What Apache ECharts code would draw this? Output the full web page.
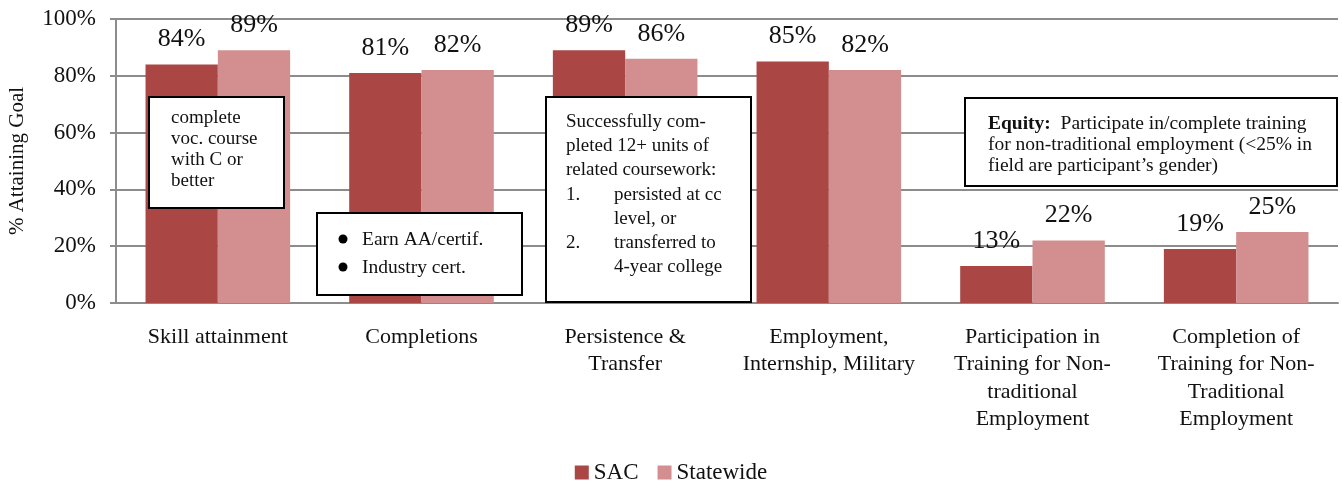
<!DOCTYPE html>
<html>
<head>
<meta charset="utf-8">
<script src="https://cdn.jsdelivr.net/npm/echarts@6/dist/echarts.min.js"></script>
<style>html,body{margin:0;padding:0;background:#fff}#c{width:1342px;height:483px}</style>
</head>
<body>
<div id="c"></div>
<script>
const categories = ['Skill attainment', 'Completions', 'Persistence &\nTransfer', 'Employment,\nInternship, Military', 'Participation in\nTraining for Non-\ntraditional\nEmployment', 'Completion of\nTraining for Non-\nTraditional\nEmployment'];
const sacValues = [84, 81, 89, 85, 13, 19];
const statewideValues = [89, 82, 86, 82, 22, 25];
const seriesNames = ['SAC', 'Statewide'];
const yTicks = [0, 20, 40, 60, 80, 100];

const SERIF = '"Liberation Serif", "Times New Roman", serif';
const chart = echarts.init(document.getElementById('c'));

function boxRect(x, y, w, h) {
  return { type: 'rect', z: 100, shape: { x: x, y: y, width: w, height: h }, style: { fill: '#fff', stroke: '#000', lineWidth: 2 } };
}
function txt(x, y, s, size, extra) {
  return Object.assign({ type: 'text', z: 101, x: x, y: y, style: { text: s, font: size + 'px ' + SERIF, fill: '#111', verticalAlign: 'middle', align: 'left' } }, extra || {});
}

const graphics = [
  boxRect(149, 97, 135, 111),
  txt(171, 118, 'complete', 19),
  txt(171, 139, 'voc. course', 19),
  txt(171, 160, 'with C or', 19),
  txt(171, 181, 'better', 19),

  boxRect(317, 213, 205, 82),
  { type: 'circle', z: 101, shape: { cx: 343, cy: 239, r: 4.5 }, style: { fill: '#000' } },
  { type: 'circle', z: 101, shape: { cx: 343, cy: 267, r: 4.5 }, style: { fill: '#000' } },
  txt(362, 240, 'Earn AA/certif.', 19.5),
  txt(362, 268, 'Industry cert.', 19.5),

  boxRect(546, 97, 205, 205),
  txt(566, 122, 'Successfully com-', 19),
  txt(566, 146, 'pleted 12+ units of', 19),
  txt(566, 170, 'related coursework:', 19),
  txt(566, 195, '1.', 19),
  txt(614, 195, 'persisted at cc', 19),
  txt(614, 219, 'level, or', 19),
  txt(566, 243, '2.', 19),
  txt(614, 243, 'transferred to', 19),
  txt(614, 267, '4-year college', 19),

  boxRect(965, 98, 372, 88),
  { type: 'text', z: 101, x: 988, y: 124, style: { rich: { b: { font: 'bold 19.5px ' + SERIF, fill: '#111' }, n: { font: '19.5px ' + SERIF, fill: '#111' } }, text: '{b|Equity:}{n|  Participate in/complete training}', verticalAlign: 'middle' } },
  txt(988, 145, 'for non-traditional employment (<25% in', 19.5),
  txt(988, 166, 'field are participant\u2019s gender)', 19.5)
];

chart.setOption({
  animation: false,
  textStyle: { fontFamily: SERIF },
  grid: { left: 116, right: 4, top: 19, bottom: 180, containLabel: false, outerBoundsMode: 'none' },
  legend: {
    top: 456, left: 'center', itemWidth: 14, itemHeight: 14, itemGap: 19, icon: 'rect',
    textStyle: { fontFamily: SERIF, fontSize: 23, color: '#111' },
    data: seriesNames
  },
  xAxis: {
    type: 'category', data: categories,
    axisLine: { lineStyle: { color: '#8c8c8c', width: 2 } },
    axisTick: { show: false },
    axisLabel: { interval: 0, fontFamily: SERIF, fontSize: 22, lineHeight: 27.5, color: '#111', margin: 20 }
  },
  yAxis: {
    type: 'value', min: 0, max: 100, interval: 20,
    name: '% Attaining Goal', nameLocation: 'middle', nameGap: 88,
    nameTextStyle: { fontFamily: SERIF, fontSize: 21, color: '#111' },
    axisLine: { show: true, lineStyle: { color: '#8c8c8c', width: 2 } },
    axisTick: { show: true, length: 6, lineStyle: { color: '#8c8c8c', width: 2 } },
    splitLine: { lineStyle: { color: '#8c8c8c', width: 2 } },
    axisLabel: { fontFamily: SERIF, fontSize: 23, color: '#111', margin: 20, formatter: v => yTicks.includes(v) ? v + '%' : '' }
  },
  series: [
    { name: seriesNames[0], type: 'bar', data: sacValues, barGap: '0%', barCategoryGap: '29%',
      itemStyle: { color: '#AA4644' },
      label: { show: true, position: 'top', distance: 12, formatter: '{c}%', fontFamily: SERIF, fontSize: 26, color: '#111' } },
    { name: seriesNames[1], type: 'bar', data: statewideValues, barGap: '0%', barCategoryGap: '29%',
      itemStyle: { color: '#D38F8F' },
      label: { show: true, position: 'top', distance: 12, formatter: '{c}%', fontFamily: SERIF, fontSize: 26, color: '#111' } }
  ],
  graphic: graphics
});
</script>
</body>
</html>
